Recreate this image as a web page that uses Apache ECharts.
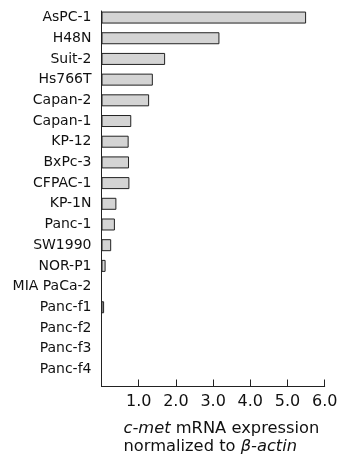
<!DOCTYPE html>
<html>
<head>
<meta charset="utf-8">
<script src="https://cdn.jsdelivr.net/npm/echarts@6/dist/echarts.min.js"></script>
<style>
  html, body { margin: 0; padding: 0; background: #fff; }
  #chart { width: 341px; height: 459px; }
</style>
</head>
<body>
<div id="chart"></div>
<script>
// Pancreatic cancer cell lines, top to bottom
const cellLines = ['AsPC-1', 'H48N', 'Suit-2', 'Hs766T', 'Capan-2', 'Capan-1', 'KP-12', 'BxPc-3',
  'CFPAC-1', 'KP-1N', 'Panc-1', 'SW1990', 'NOR-P1', 'MIA PaCa-2', 'Panc-f1', 'Panc-f2', 'Panc-f3', 'Panc-f4'];
// c-met mRNA expression normalized to beta-actin
const expression = [5.50, 3.17, 1.71, 1.38, 1.28, 0.80, 0.73, 0.74,
  0.75, 0.40, 0.36, 0.26, 0.11, 0, 0.07, 0, 0, 0];
// Value axis range and tick labels
const axisMin = 0;
const axisMax = 6;
const axisStep = 1;
const tickLabels = ['', '1.0', '2.0', '3.0', '4.0', '5.0', '6.0'];

const FONT = 'DejaVu Sans';
const INK = '#111';

const chart = echarts.init(document.getElementById('chart'), null, { renderer: 'canvas' });

chart.setOption({
  animation: false,
  backgroundColor: '#fff',
  grid: [
    // bars and cell line labels
    { left: 101.5, right: 16.3, top: 7.2, bottom: 79.3, containLabel: false },
    // frame: value axis with ticks plus the vertical axis line
    { left: 101.5, right: 16.3, top: 11, bottom: 72.5, containLabel: false }
  ],
  xAxis: [
    {
      gridIndex: 0, type: 'value', min: axisMin, max: axisMax, interval: axisStep,
      show: false
    },
    {
      gridIndex: 1, type: 'value', min: axisMin, max: axisMax, interval: axisStep,
      axisLine: { show: true, onZero: false, lineStyle: { color: '#222', width: 1 } },
      axisTick: { show: true, inside: true, length: 7, lineStyle: { color: '#222', width: 1 } },
      splitLine: { show: false },
      axisLabel: {
        margin: 7,
        fontFamily: FONT, fontSize: 16, color: INK,
        formatter: (v) => tickLabels[Math.round((v - axisMin) / axisStep)] || ''
      },
      name: '{i|c-met} mRNA expression\nnormalized to {i|β-actin}',
      nameLocation: 'start',
      nameGap: -22,
      nameMoveOverlap: false,
      nameTextStyle: {
        align: 'left',
        verticalAlign: 'top',
        padding: [33, 0, 0, 0],
        fontFamily: FONT, fontSize: 16.3, color: INK, lineHeight: 18,
        rich: {
          i: { fontFamily: FONT, fontSize: 16.3, fontStyle: 'italic', color: INK, lineHeight: 18 }
        }
      }
    }
  ],
  yAxis: [
    {
      gridIndex: 0, type: 'category', data: cellLines, inverse: true,
      axisLine: { show: false },
      axisTick: { show: false },
      splitLine: { show: false },
      axisLabel: { margin: 10, fontFamily: FONT, fontSize: 14, color: INK, interval: 0 }
    },
    {
      gridIndex: 1, type: 'value', min: 0, max: 1,
      axisLine: { show: true, onZero: false, lineStyle: { color: '#222', width: 1 } },
      axisTick: { show: false },
      axisLabel: { show: false },
      splitLine: { show: false }
    }
  ],
  series: [
    {
      type: 'bar',
      xAxisIndex: 0,
      yAxisIndex: 0,
      data: expression,
      barWidth: 12,
      itemStyle: { color: '#d4d4d4', borderColor: '#222', borderWidth: 1 },
      z: 3
    }
  ]
});
</script>
</body>
</html>
